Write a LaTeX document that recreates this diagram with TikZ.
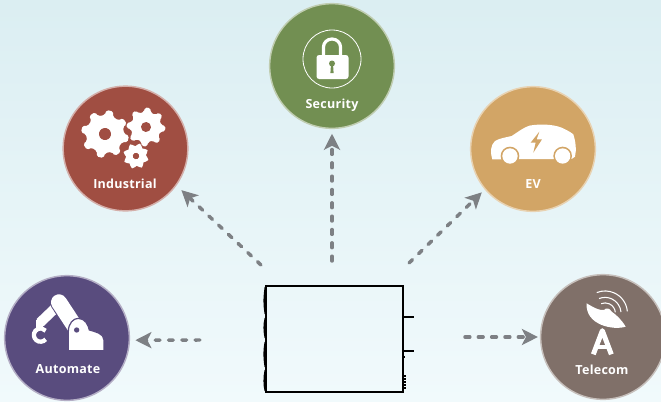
\documentclass[tikz,border=0pt]{standalone}
\usepackage{fontspec}
\setmainfont{Open Sans}[LetterSpace=2]
\usetikzlibrary{arrows.meta}
\definecolor{indred}{RGB}{160,78,66}
\definecolor{secgreen}{RGB}{114,143,82}
\definecolor{evgold}{RGB}{210,165,102}
\definecolor{autopurple}{RGB}{89,76,126}
\definecolor{telbrown}{RGB}{128,112,105}
\definecolor{flowgray}{RGB}{125,128,132}
\tikzset{
	field/.style={circle,minimum size=93.5pt,inner sep=0pt,line width=1.1pt},
	fieldname/.style={text=white,font=\bfseries\fontsize{9.4}{11}\selectfont,inner sep=0pt},
	flow/.style={color=flowgray,line width=2.6pt,line cap=round,dash pattern=on 3.6pt off 6.4pt,-{Stealth[length=12pt,width=12pt,inset=3pt,line cap=butt]}},
}
% gear: angle, centre, tip radius, root radius, hole radius, colour behind hole
\newcommand{\gearicon}[6][0]{
	\begin{scope}[shift={(#2)},rotate=#1]
		\fill[white,rounded corners=1.2pt] (-22:#4) \foreach \a in {0,45,...,315}{
			-- (\a-13:#4) -- (\a-8:#3) -- (\a+8:#3) -- (\a+13:#4)
		} -- cycle;
		\fill[#6] (0,0) circle [radius=#5];
	\end{scope}
}
\begin{document}
\begin{tikzpicture}[x=0.75pt,y=0.75pt,yscale=-1]
	\shade[top color={rgb,255:red,219;green,238;blue,242},bottom color={rgb,255:red,241;green,250;blue,252}] (0,0) rectangle (661,401);
	\useasboundingbox (0,0) rectangle (661,401);

	%fields
	\node[field,fill=indred,draw=indred!45!white] (ind) at (125.5,148.5) {};
	\node[field,fill=secgreen,draw=secgreen!45!white] (sec) at (332,66) {};
	\node[field,fill=evgold,draw=evgold!50!white] (ev) at (533,149) {};
	\node[field,fill=autopurple,draw=autopurple!45!white] (auto) at (67,338) {};
	\node[field,fill=telbrown,draw=telbrown!45!white] (tel) at (603,337) {};

	\node[fieldname] (indname) at (125,184) {Industrial};
	\node[fieldname] (secname) at (332,105.5) {Security};
	\node[fieldname] (evname) at (533,184.5) {EV};
	\node[fieldname] (autoname) at (68,369.5) {Automate};
	\node[fieldname] (telname) at (602,369.5) {Telecom};

	%gears
	\gearicon[12]{105,134}{24}{19}{6}{indred}
	\gearicon[5]{146,127}{19.5}{15.2}{5}{indred}
	\gearicon[18]{136,156}{13}{10}{3.2}{indred}

	%lock
	\draw[white,line width=0.6pt] (332,59) circle [radius=29];
	\draw[white,line width=2.4pt] (323.5,57) -- (323.5,47) arc [start angle=180,end angle=360,x radius=8.5,y radius=8] -- (340.5,57);
	\fill[white,rounded corners=2pt] (316.5,55) rectangle (348.5,79);
	\fill[secgreen] (332,63.5) circle [radius=3];
	\fill[secgreen] (331,64) -- (333,64) -- (333.6,73) -- (330.4,73) -- cycle;

	%car
	\begin{scope}[shift={(460,80)},scale=0.3333]
		\fill[white] (97,238) .. controls (90,215) and (92,195) .. (105,183) .. controls (120,174) and (140,172) .. (155,168) .. controls (175,155) and (190,143) .. (208,137) .. controls (240,131) and (280,133) .. (305,143) .. controls (320,150) and (330,155) .. (340,163) .. controls (347,185) and (350,210) .. (345,230) -- (335,237) -- cycle;
		\fill[evgold] (150,228) circle [radius=28];
		\fill[evgold] (308,228) circle [radius=28];
		\fill[white] (150,228) circle [radius=23];
		\fill[white] (308,228) circle [radius=23];
		\fill[evgold] (238,155) -- (212,188) -- (227,188) -- (220,218) -- (246,178) -- (230,178) -- cycle;
	\end{scope}

	%robot
	\begin{scope}[shift={(0,270)},scale=0.3333]
		\draw[white,line width=7.5pt] (165,115) -- (120,158);
		\draw[white,line width=5pt] (118,150) -- (118,178);
		\draw[white,line width=3.2pt] (137,208) arc [start angle=40,end angle=320,radius=20];
		\draw[autopurple,line width=13.5pt,line cap=round] (177,97) -- (225,170);
		\draw[white,line width=12pt,line cap=round] (177,97) -- (225,170);
		\fill[white,draw=autopurple,line width=0.9pt] (205,242) -- (205,185) .. controls (205,160) and (220,145) .. (235,145) .. controls (255,145) and (265,165) .. (268,180) .. controls (285,185) and (312,190) .. (312,210) -- (312,242) -- cycle;
		\fill[autopurple] (230,180) circle [radius=8];
	\end{scope}

	%dish
	\begin{scope}[shift={(530,270)},scale=0.3333]
		\fill[white] (170,100) .. controls (195,115) and (210,122) .. (222,120) .. controls (228,112) and (240,115) .. (245,125) .. controls (260,135) and (275,150) .. (287,170) .. controls (250,182) and (165,165) .. (170,100) -- cycle;
		\draw[white,line width=3.7pt,line join=round] (190,253) -- (217,182) -- (244,253);
		\draw[white,line width=3pt] (199,232) -- (235,232);
		\draw[white,line width=0.8pt] (292,124) arc [start angle=-5,end angle=-112,radius=67];
		\draw[white,line width=0.8pt] (273,126) arc [start angle=-5,end angle=-112,radius=48];
		\draw[white,line width=0.8pt] (256,127) arc [start angle=-5,end angle=-112,radius=31];
	\end{scope}

	%unit
	\node[draw,line width=1.2pt,minimum width=102.75pt,minimum height=79.5pt,inner sep=0pt] (unit) at (334.5,339) {};
	\draw[line width=1.3pt] (unit.north east) ++(0,32) -- ++(10,0);
	\draw[line width=1.3pt] (unit.north east) ++(0,66) -- ++(10,0);
	\draw[line width=1.4pt] (265.5,287) .. controls (264,300) and (264,303) .. (265.5,314);
	\draw[line width=1.4pt] (265.5,318) .. controls (264,325) and (264,330) .. (265.5,338);
	\draw[line width=1.4pt] (265.5,342) .. controls (264,350) and (264,358) .. (265.5,367);
	\draw[line width=1.4pt] (265.5,370) .. controls (264,377) and (264,385) .. (265.5,391);
	\fill (403,356) rectangle (405,358);
	\foreach \y in {375,378,...,387}{
		\fill (403,\y) rectangle (405.5,\y+1.8);
	}

	%arrows
	\coordinate (toind) at (261,265);
	\coordinate (tosec) at (332,261);
	\coordinate (toev) at (409,263);
	\coordinate (toauto) at (200,340);
	\coordinate (totel) at (465,337);
	\draw[flow,shorten >=5pt] (toind) -- (ind.-36);
	\draw[flow,shorten >=3.5pt] (tosec) -- (sec.south);
	\draw[flow,shorten >=3pt] (toev) -- (ev.-140);
	\draw[flow,shorten >=4pt] (toauto) -- (auto.-2);
	\draw[flow,shorten >=1.5pt] (totel) -- (tel.west);
\end{tikzpicture}
\end{document}
